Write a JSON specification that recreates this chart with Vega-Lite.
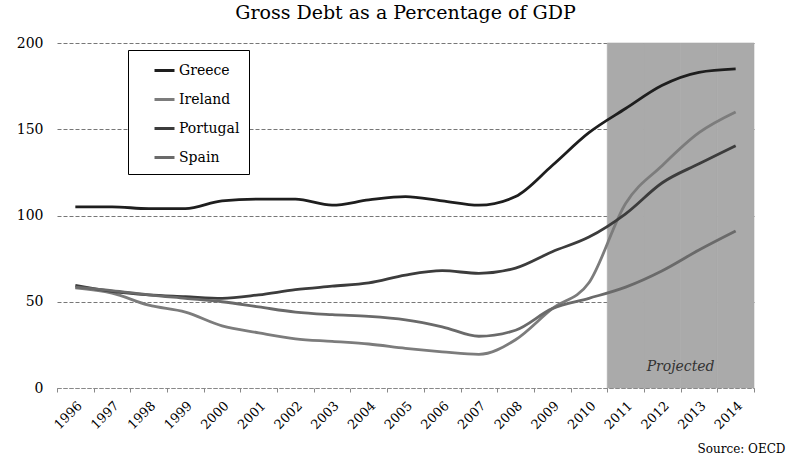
{
  "$schema": "https://vega.github.io/schema/vega-lite/v6.json",
  "width": 697,
  "height": 345,
  "autosize": "none",
  "padding": {"left": 57, "top": 43, "right": 32, "bottom": 68},
  "background": "white",
  "title": {
    "text": "Gross Debt as a Percentage of GDP",
    "font": "DejaVu Serif",
    "fontSize": 19,
    "fontWeight": "normal",
    "color": "#000000",
    "anchor": "middle",
    "offset": 13
  },
  "datasets": {
    "debt": [
      {"year": 1996, "country": "Greece", "value": 105},
      {"year": 1997, "country": "Greece", "value": 105},
      {"year": 1998, "country": "Greece", "value": 104},
      {"year": 1999, "country": "Greece", "value": 104},
      {"year": 2000, "country": "Greece", "value": 108.5},
      {"year": 2001, "country": "Greece", "value": 109.5},
      {"year": 2002, "country": "Greece", "value": 109.5},
      {"year": 2003, "country": "Greece", "value": 106},
      {"year": 2004, "country": "Greece", "value": 109},
      {"year": 2005, "country": "Greece", "value": 111},
      {"year": 2006, "country": "Greece", "value": 108.5},
      {"year": 2007, "country": "Greece", "value": 106},
      {"year": 2008, "country": "Greece", "value": 111},
      {"year": 2009, "country": "Greece", "value": 129},
      {"year": 2010, "country": "Greece", "value": 148},
      {"year": 2011, "country": "Greece", "value": 162},
      {"year": 2012, "country": "Greece", "value": 175.5},
      {"year": 2013, "country": "Greece", "value": 183},
      {"year": 2014, "country": "Greece", "value": 185},
      {"year": 1996, "country": "Ireland", "value": 58},
      {"year": 1997, "country": "Ireland", "value": 55},
      {"year": 1998, "country": "Ireland", "value": 48},
      {"year": 1999, "country": "Ireland", "value": 44},
      {"year": 2000, "country": "Ireland", "value": 36},
      {"year": 2001, "country": "Ireland", "value": 32},
      {"year": 2002, "country": "Ireland", "value": 28.5},
      {"year": 2003, "country": "Ireland", "value": 27},
      {"year": 2004, "country": "Ireland", "value": 25.5},
      {"year": 2005, "country": "Ireland", "value": 23},
      {"year": 2006, "country": "Ireland", "value": 21},
      {"year": 2007, "country": "Ireland", "value": 19.5},
      {"year": 2008, "country": "Ireland", "value": 28},
      {"year": 2009, "country": "Ireland", "value": 46},
      {"year": 2010, "country": "Ireland", "value": 61},
      {"year": 2011, "country": "Ireland", "value": 107},
      {"year": 2012, "country": "Ireland", "value": 129},
      {"year": 2013, "country": "Ireland", "value": 148},
      {"year": 2014, "country": "Ireland", "value": 160},
      {"year": 1996, "country": "Portugal", "value": 59.5},
      {"year": 1997, "country": "Portugal", "value": 56},
      {"year": 1998, "country": "Portugal", "value": 54},
      {"year": 1999, "country": "Portugal", "value": 53},
      {"year": 2000, "country": "Portugal", "value": 52},
      {"year": 2001, "country": "Portugal", "value": 54},
      {"year": 2002, "country": "Portugal", "value": 57},
      {"year": 2003, "country": "Portugal", "value": 59},
      {"year": 2004, "country": "Portugal", "value": 61},
      {"year": 2005, "country": "Portugal", "value": 65.5},
      {"year": 2006, "country": "Portugal", "value": 68},
      {"year": 2007, "country": "Portugal", "value": 66.5},
      {"year": 2008, "country": "Portugal", "value": 69.5},
      {"year": 2009, "country": "Portugal", "value": 79},
      {"year": 2010, "country": "Portugal", "value": 87.5},
      {"year": 2011, "country": "Portugal", "value": 101},
      {"year": 2012, "country": "Portugal", "value": 119},
      {"year": 2013, "country": "Portugal", "value": 130},
      {"year": 2014, "country": "Portugal", "value": 140.5},
      {"year": 1996, "country": "Spain", "value": 58.5},
      {"year": 1997, "country": "Spain", "value": 56.5},
      {"year": 1998, "country": "Spain", "value": 54},
      {"year": 1999, "country": "Spain", "value": 52},
      {"year": 2000, "country": "Spain", "value": 50},
      {"year": 2001, "country": "Spain", "value": 47},
      {"year": 2002, "country": "Spain", "value": 44},
      {"year": 2003, "country": "Spain", "value": 42.5},
      {"year": 2004, "country": "Spain", "value": 41.5},
      {"year": 2005, "country": "Spain", "value": 39.5},
      {"year": 2006, "country": "Spain", "value": 35.5},
      {"year": 2007, "country": "Spain", "value": 30},
      {"year": 2008, "country": "Spain", "value": 33.5},
      {"year": 2009, "country": "Spain", "value": 46},
      {"year": 2010, "country": "Spain", "value": 52},
      {"year": 2011, "country": "Spain", "value": 58.5},
      {"year": 2012, "country": "Spain", "value": 68},
      {"year": 2013, "country": "Spain", "value": 80},
      {"year": 2014, "country": "Spain", "value": 91}
    ],
    "projected": [
      {"year": 2011}, {"year": 2012}, {"year": 2013}, {"year": 2014}
    ]
  },
  "encoding": {
    "x": {
      "field": "year",
      "type": "ordinal",
      "scale": {
        "type": "band",
        "paddingInner": 0,
        "paddingOuter": 0,
        "domain": [1996, 1997, 1998, 1999, 2000, 2001, 2002, 2003, 2004, 2005, 2006, 2007, 2008, 2009, 2010, 2011, 2012, 2013, 2014]
      },
      "axis": {
        "title": "Source: OECD",
        "titleFont": "DejaVu Serif",
        "titleFontSize": 12,
        "titleFontWeight": "normal",
        "titleColor": "#000000",
        "titleAnchor": "end",
        "titleAlign": "right",
        "titleBaseline": "alphabetic",
        "titleX": 728,
        "titleY": 64,
        "labelAngle": -45,
        "labelAlign": "right",
        "labelBaseline": "top",
        "labelFont": "DejaVu Serif",
        "labelFontSize": 13,
        "labelColor": "#000000",
        "labelPadding": 7,
        "tickBand": "extent",
        "tickSize": 4,
        "tickColor": "#888888",
        "domainColor": "#888888",
        "domainDash": [4, 2],
        "grid": false
      }
    }
  },
  "layer": [
    {
      "data": {"name": "projected"},
      "mark": {"type": "rect", "color": "#aaaaaa", "stroke": "#aaaaaa", "strokeWidth": 0.6},
      "encoding": {
        "y": {"datum": 0, "type": "quantitative"},
        "y2": {"datum": 200}
      }
    },
    {
      "data": {"name": "debt"},
      "mark": {"type": "line", "strokeWidth": 2.8, "interpolate": "monotone"},
      "encoding": {
        "x": {"field": "year", "type": "ordinal", "bandPosition": 0.5},
        "y": {
          "field": "value",
          "type": "quantitative",
          "scale": {"domain": [0, 200], "nice": false},
          "axis": {
            "title": null,
            "values": [0, 50, 100, 150, 200],
            "labelFont": "DejaVu Serif",
            "labelFontSize": 14,
            "labelColor": "#000000",
            "labelPadding": 14,
            "tickSize": 0,
            "domain": false,
            "grid": true,
            "gridColor": "#777777",
            "gridDash": [4, 2],
            "gridWidth": 1
          }
        },
        "color": {
          "field": "country",
          "type": "nominal",
          "scale": {
            "domain": ["Greece", "Ireland", "Portugal", "Spain"],
            "range": ["#1e1e1e", "#7c7c7c", "#3c3c3c", "#6a6a6a"]
          },
          "legend": {
            "title": null,
            "orient": "none",
            "legendX": 71,
            "legendY": 7,
            "direction": "vertical",
            "symbolType": "stroke",
            "symbolSize": 400,
            "symbolStrokeWidth": 3,
            "symbolOffset": 16,
            "labelFont": "DejaVu Serif",
            "labelFontSize": 14,
            "labelColor": "#000000",
            "labelOffset": 3,
            "rowPadding": 10,
            "padding": 9,
            "strokeColor": "#000000",
            "fillColor": "#ffffff",
            "cornerRadius": 0
          }
        }
      }
    },
    {
      "data": {"values": [{"label": "Projected"}]},
      "mark": {"type": "text", "font": "DejaVu Serif", "fontStyle": "italic", "fontSize": 14, "color": "#333333", "align": "center", "baseline": "middle"},
      "encoding": {
        "x": {"datum": 2013, "type": "ordinal", "bandPosition": 0},
        "y": {"datum": 12, "type": "quantitative"},
        "text": {"field": "label"}
      }
    }
  ],
  "config": {
    "view": {"stroke": null}
  }
}
